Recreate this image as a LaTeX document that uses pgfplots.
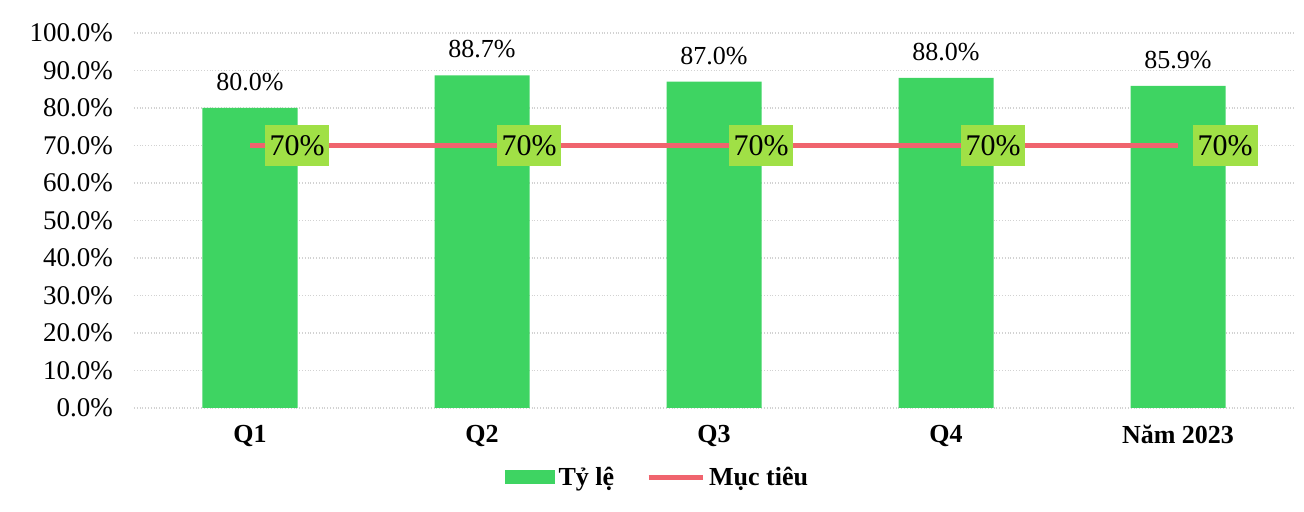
\documentclass[border=0pt]{standalone}
\usepackage{pgfplots}
\pgfplotsset{compat=1.18}
\usepackage{fontspec}
\setmainfont{Liberation Serif}
\definecolor{bargreen}{RGB}{62,212,98}
\definecolor{tgtred}{RGB}{240,100,110}
\definecolor{lblfill}{RGB}{160,224,70}
\begin{document}
\begin{tikzpicture}
\begin{axis}[
  name=ax,
  at={(0,0)}, anchor=south west,
  scale only axis,
  width=580pt, height=187.5pt,
  xmin=-0.5, xmax=4.5,
  ymin=0, ymax=100,
  ytick={0,10,...,100},
  yticklabel={\pgfmathprintnumber[fixed,fixed zerofill,precision=1]{\tick}\%},
  /pgf/number format/assume math mode=true,
  xtick={0,1,2,3,4},
  xticklabels={Q1,Q2,Q3,Q4,Năm 2023},
  xticklabel style={font=\fontsize{13}{15}\selectfont\bfseries, yshift=-5pt},
  yticklabel style={font=\fontsize{13.5}{15}\selectfont, xshift=-7pt},
  axis line style={draw=none},
  major tick length=0pt,
  ymajorgrids,
  grid style={gray!35, densely dotted, line width=0.6pt},
  legend style={at={(0.452,-0.185)}, anchor=center, draw=none, fill=none,
    legend columns=2, font=\fontsize{13}{15}\selectfont\bfseries,
    /tikz/every even column/.append style={column sep=14pt}},
  legend cell align=left,
]
\addplot[ybar, bar width=47.5pt, fill=bargreen, draw=none,
  nodes near coords={\pgfmathprintnumber[fixed,fixed zerofill,precision=1]{\pgfplotspointmeta}\%},
  nodes near coords style={font=\fontsize{13}{15}\selectfont, yshift=5pt, /pgf/number format/assume math mode=true},
  legend image code/.code={\fill[bargreen] (0cm,-3.5pt) rectangle (25pt,3.5pt);}]
  coordinates {(0,80.0) (1,88.7) (2,87.0) (3,88.0) (4,85.9)};
\addlegendentry{Tỷ lệ}
\addplot[tgtred, line width=2.5pt, mark=none,
  nodes near coords={70\%},
  nodes near coords style={anchor=west, xshift=6pt, fill=lblfill, text=black,
    font=\fontsize{15}{17}\selectfont, inner xsep=2.5pt, inner ysep=5pt},
  legend image code/.code={\draw[tgtred, line width=2.5pt] (0cm,0cm) -- (27pt,0cm);}]
  coordinates {(0,70) (1,70) (2,70) (3,70) (4,70)};
\addlegendentry{Mục tiêu}
\end{axis}
\pgfresetboundingbox
\useasboundingbox (-67pt,-52pt) rectangle (585pt,204pt);
\end{tikzpicture}
\end{document}
